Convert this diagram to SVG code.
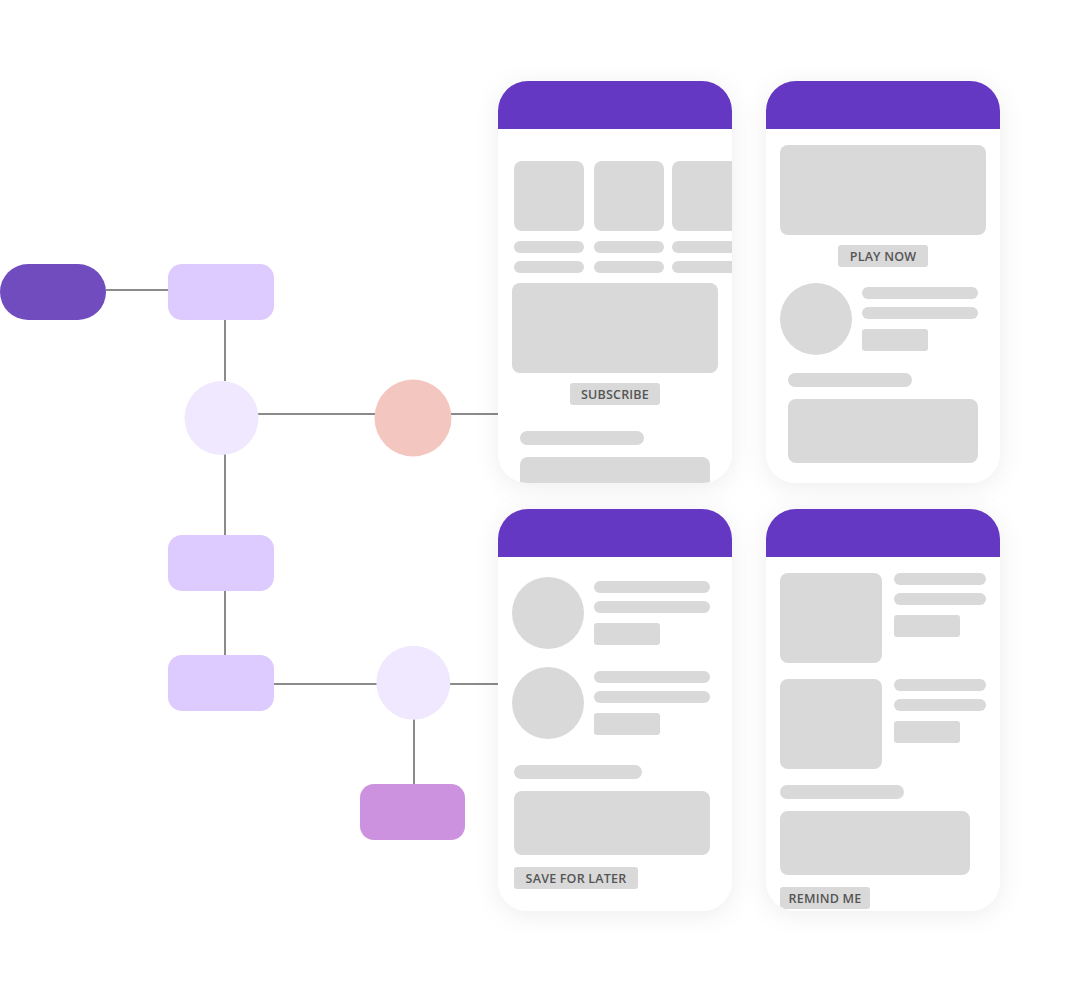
<svg xmlns="http://www.w3.org/2000/svg" width="1080" height="991" viewBox="0 0 1080 991">
  <defs>
    <filter id="soft" x="-20%" y="-20%" width="140%" height="140%">
      <feDropShadow dx="0" dy="4" stdDeviation="12" flood-color="#000" flood-opacity="0.07"/>
    </filter>
    <clipPath id="clipA"><rect x="498" y="81" width="234" height="402" rx="30"/></clipPath>
    <clipPath id="clipB"><rect x="766" y="81" width="234" height="402" rx="30"/></clipPath>
    <clipPath id="clipC"><rect x="498" y="509" width="234" height="402" rx="30"/></clipPath>
    <clipPath id="clipD"><rect x="766" y="509" width="234" height="402" rx="30"/></clipPath>
  </defs>
  <style>
    .edge { stroke: #8a8a8a; stroke-width: 2; fill: none; }
    .start { fill: #704cbf; }
    .step { fill: #ddcafe; }
    .hub { fill: #f0e8fe; }
    .alert { fill: #f4c6c0; }
    .leaf { fill: #cc92df; }
    .body { fill: #ffffff; }
    .bar { fill: #6438c2; }
    .ph { fill: #d9d9d9; }
    .btn-text { font-family: "Open Sans", "Liberation Sans", sans-serif; font-size: 12.5px; font-weight: 600; fill: #555555; text-anchor: middle; letter-spacing: 0.2px; }
  </style>

  <rect width="1080" height="991" fill="#ffffff"/>

  <!-- connectors -->
  <g id="connectors">
    <line class="edge" x1="106" y1="290" x2="168" y2="290"/>
    <line class="edge" x1="225" y1="320" x2="225" y2="381"/>
    <line class="edge" x1="258" y1="414" x2="376" y2="414"/>
    <line class="edge" x1="450" y1="414" x2="498" y2="414"/>
    <line class="edge" x1="225" y1="454" x2="225" y2="535"/>
    <line class="edge" x1="225" y1="591" x2="225" y2="655"/>
    <line class="edge" x1="274" y1="684" x2="377" y2="684"/>
    <line class="edge" x1="450" y1="684" x2="498" y2="684"/>
    <line class="edge" x1="414" y1="719" x2="414" y2="784"/>
  </g>

  <!-- flow nodes -->
  <g id="start"><rect class="start" x="0" y="264" width="106" height="56" rx="28"/></g>
  <g id="step-1"><rect class="step" x="168" y="264" width="106" height="56" rx="14"/></g>
  <g id="hub-1"><circle class="hub" cx="221.5" cy="418" r="37"/></g>
  <g id="alert"><circle class="alert" cx="413" cy="418" r="38.5"/></g>
  <g id="step-2"><rect class="step" x="168" y="535" width="106" height="56" rx="14"/></g>
  <g id="step-3"><rect class="step" x="168" y="655" width="106" height="56" rx="14"/></g>
  <g id="hub-2"><circle class="hub" cx="413.3" cy="682.7" r="37"/></g>
  <g id="leaf"><rect class="leaf" x="360" y="784" width="105" height="56" rx="14"/></g>

  <!-- screen: subscribe -->
  <g id="screen-subscribe">
    <rect class="body" x="498" y="81" width="234" height="402" rx="30" filter="url(#soft)"/>
    <g clip-path="url(#clipA)">
      <rect class="bar" x="498" y="81" width="234" height="48"/>
      <rect class="ph" x="514" y="161" width="70" height="70" rx="8"/>
      <rect class="ph" x="594" y="161" width="70" height="70" rx="8"/>
      <rect class="ph" x="672" y="161" width="70" height="70" rx="8"/>
      <rect class="ph" x="514" y="241" width="70" height="12" rx="6"/>
      <rect class="ph" x="594" y="241" width="70" height="12" rx="6"/>
      <rect class="ph" x="672" y="241" width="70" height="12" rx="6"/>
      <rect class="ph" x="514" y="261" width="70" height="12" rx="6"/>
      <rect class="ph" x="594" y="261" width="70" height="12" rx="6"/>
      <rect class="ph" x="672" y="261" width="70" height="12" rx="6"/>
      <rect class="ph" x="512" y="283" width="206" height="90" rx="8"/>
      <rect class="ph" x="570" y="383" width="90" height="22" rx="3"/>
      <text class="btn-text" x="615" y="399">SUBSCRIBE</text>
      <rect class="ph" x="520" y="431" width="124" height="14" rx="7"/>
      <rect class="ph" x="520" y="457" width="190" height="64" rx="8"/>
    </g>
  </g>

  <!-- screen: play -->
  <g id="screen-play">
    <rect class="body" x="766" y="81" width="234" height="402" rx="30" filter="url(#soft)"/>
    <g clip-path="url(#clipB)">
      <rect class="bar" x="766" y="81" width="234" height="48"/>
      <rect class="ph" x="780" y="145" width="206" height="90" rx="8"/>
      <rect class="ph" x="838" y="245" width="90" height="22" rx="3"/>
      <text class="btn-text" x="883" y="261">PLAY NOW</text>
      <circle class="ph" cx="816" cy="319" r="36"/>
      <rect class="ph" x="862" y="287" width="116" height="12" rx="6"/>
      <rect class="ph" x="862" y="307" width="116" height="12" rx="6"/>
      <rect class="ph" x="862" y="329" width="66" height="22" rx="3"/>
      <rect class="ph" x="788" y="373" width="124" height="14" rx="7"/>
      <rect class="ph" x="788" y="399" width="190" height="64" rx="8"/>
    </g>
  </g>

  <!-- screen: save for later -->
  <g id="screen-save">
    <rect class="body" x="498" y="509" width="234" height="402" rx="30" filter="url(#soft)"/>
    <g clip-path="url(#clipC)">
      <rect class="bar" x="498" y="509" width="234" height="48"/>
      <circle class="ph" cx="548" cy="613" r="36"/>
      <rect class="ph" x="594" y="581" width="116" height="12" rx="6"/>
      <rect class="ph" x="594" y="601" width="116" height="12" rx="6"/>
      <rect class="ph" x="594" y="623" width="66" height="22" rx="3"/>
      <circle class="ph" cx="548" cy="703" r="36"/>
      <rect class="ph" x="594" y="671" width="116" height="12" rx="6"/>
      <rect class="ph" x="594" y="691" width="116" height="12" rx="6"/>
      <rect class="ph" x="594" y="713" width="66" height="22" rx="3"/>
      <rect class="ph" x="514" y="765" width="128" height="14" rx="7"/>
      <rect class="ph" x="514" y="791" width="196" height="64" rx="8"/>
      <rect class="ph" x="514" y="867" width="124" height="22" rx="3"/>
      <text class="btn-text" x="576" y="883">SAVE FOR LATER</text>
    </g>
  </g>

  <!-- screen: remind -->
  <g id="screen-remind">
    <rect class="body" x="766" y="509" width="234" height="402" rx="30" filter="url(#soft)"/>
    <g clip-path="url(#clipD)">
      <rect class="bar" x="766" y="509" width="234" height="48"/>
      <rect class="ph" x="780" y="573" width="102" height="90" rx="8"/>
      <rect class="ph" x="894" y="573" width="92" height="12" rx="6"/>
      <rect class="ph" x="894" y="593" width="92" height="12" rx="6"/>
      <rect class="ph" x="894" y="615" width="66" height="22" rx="3"/>
      <rect class="ph" x="780" y="679" width="102" height="90" rx="8"/>
      <rect class="ph" x="894" y="679" width="92" height="12" rx="6"/>
      <rect class="ph" x="894" y="699" width="92" height="12" rx="6"/>
      <rect class="ph" x="894" y="721" width="66" height="22" rx="3"/>
      <rect class="ph" x="780" y="785" width="124" height="14" rx="7"/>
      <rect class="ph" x="780" y="811" width="190" height="64" rx="8"/>
      <rect class="ph" x="780" y="887" width="90" height="22" rx="3"/>
      <text class="btn-text" x="825" y="903">REMIND ME</text>
    </g>
  </g>
</svg>
